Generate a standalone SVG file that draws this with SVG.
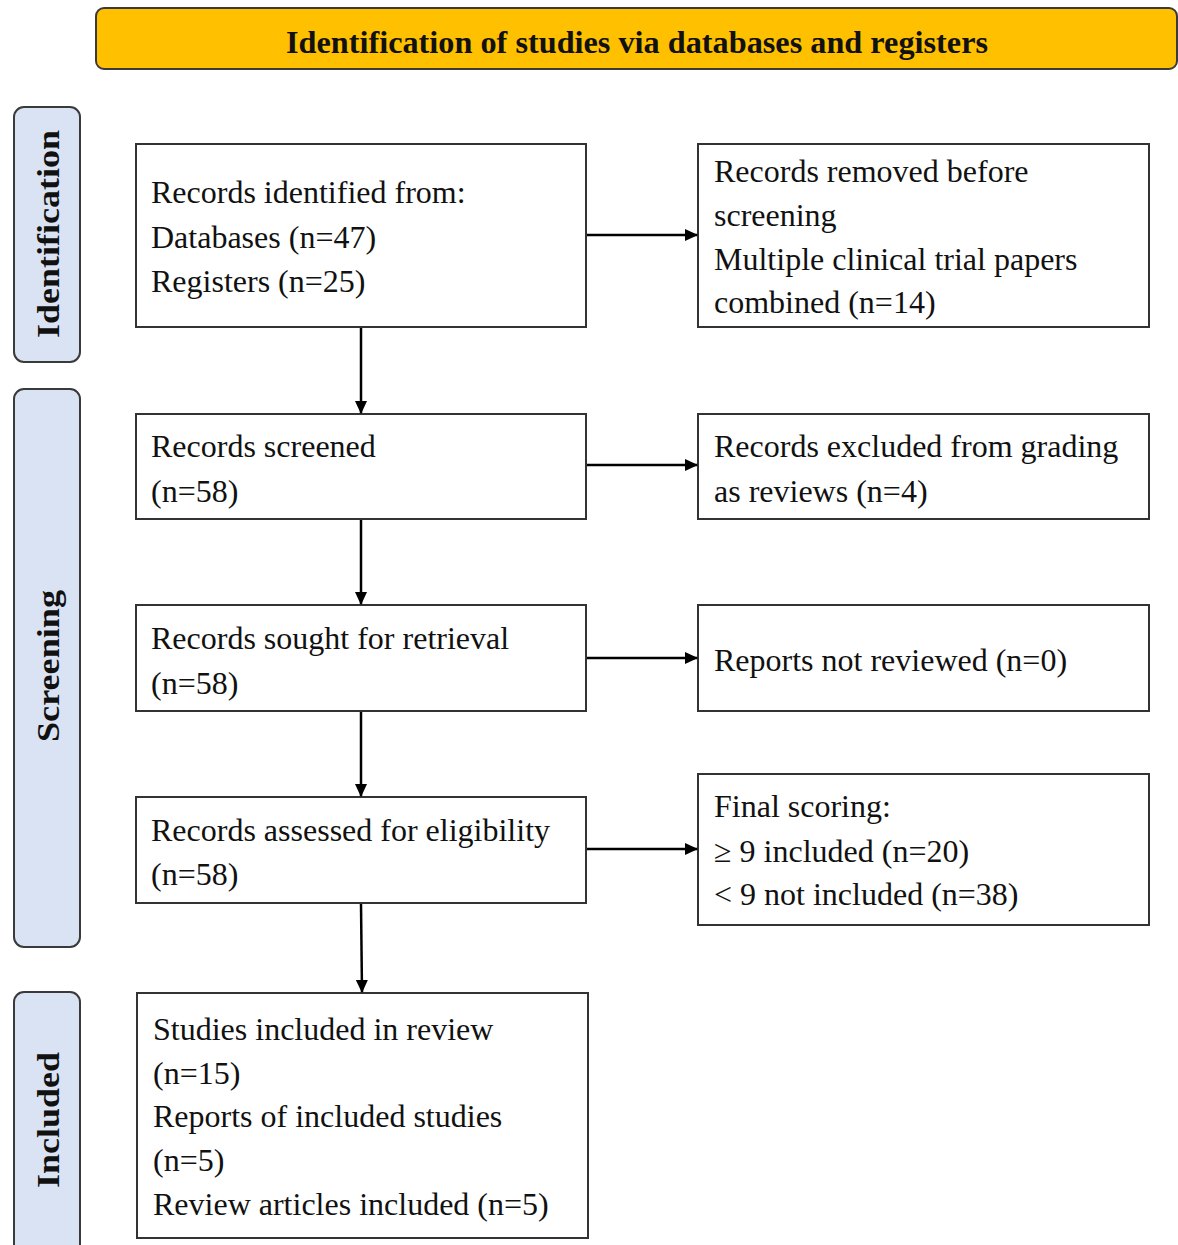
<svg xmlns="http://www.w3.org/2000/svg" width="1178" height="1245" viewBox="0 0 1178 1245">
<style>
.box{fill:#fff;stroke:#333;stroke-width:2}
.side{fill:#DAE3F3;stroke:#3a3a3a;stroke-width:2}
.t{font-family:"Liberation Serif","Times New Roman",serif;font-size:32px;fill:#111}
.sl{font-family:"Liberation Serif","Times New Roman",serif;font-size:32px;font-weight:bold;fill:#111}
.conn{stroke:#000;stroke-width:2.5;fill:none;marker-end:url(#ah)}
</style>
<defs>
<marker id="ah" markerWidth="14" markerHeight="14" refX="12" refY="6" orient="auto" markerUnits="userSpaceOnUse">
<path d="M0,0 L13,6 L0,12 Z" fill="#000"/>
</marker>
</defs>
<rect width="1178" height="1245" fill="#fff"/>
<g id="banner">
<rect x="96" y="8" width="1081" height="61" rx="8" fill="#FFC000" stroke="#3a3a3a" stroke-width="2"/>
<text x="637" y="53" text-anchor="middle" class="sl" font-size="40" textLength="702" lengthAdjust="spacingAndGlyphs">Identification of studies via databases and registers</text>
</g>
<g id="stage-identification">
<rect class="side" x="14" y="107" width="66" height="255" rx="10"/>
<text class="sl" transform="translate(59,234) rotate(-90)" text-anchor="middle" textLength="208" lengthAdjust="spacingAndGlyphs">Identification</text>
</g>
<g id="stage-screening">
<rect class="side" x="14" y="389" width="66" height="558" rx="10"/>
<text class="sl" transform="translate(59,666) rotate(-90)" text-anchor="middle" textLength="152" lengthAdjust="spacingAndGlyphs">Screening</text>
</g>
<g id="stage-included">
<rect class="side" x="14" y="992" width="66" height="270" rx="10"/>
<text class="sl" transform="translate(59,1120) rotate(-90)" text-anchor="middle" textLength="136" lengthAdjust="spacingAndGlyphs">Included</text>
</g>
<g id="n1">
<rect class="box" x="136" y="144" width="450" height="183"/>
<text class="t" x="151" y="203">Records identified from:</text>
<text class="t" x="151" y="248">Databases (n=47)</text>
<text class="t" x="151" y="292">Registers (n=25)</text>
</g>
<g id="n1r">
<rect class="box" x="698" y="144" width="451" height="183"/>
<text class="t" x="714" y="182">Records removed before</text>
<text class="t" x="714" y="226">screening</text>
<text class="t" x="714" y="270">Multiple clinical trial papers</text>
<text class="t" x="714" y="313">combined (n=14)</text>
</g>
<g id="n2">
<rect class="box" x="136" y="414" width="450" height="105"/>
<text class="t" x="151" y="457">Records screened</text>
<text class="t" x="151" y="502">(n=58)</text>
</g>
<g id="n2r">
<rect class="box" x="698" y="414" width="451" height="105"/>
<text class="t" x="714" y="457">Records excluded from grading</text>
<text class="t" x="714" y="502">as reviews (n=4)</text>
</g>
<g id="n3">
<rect class="box" x="136" y="605" width="450" height="106"/>
<text class="t" x="151" y="649">Records sought  for retrieval</text>
<text class="t" x="151" y="694">(n=58)</text>
</g>
<g id="n3r">
<rect class="box" x="698" y="605" width="451" height="106"/>
<text class="t" x="714" y="671">Reports not reviewed (n=0)</text>
</g>
<g id="n4">
<rect class="box" x="136" y="797" width="450" height="106"/>
<text class="t" x="151" y="841">Records assessed for eligibility</text>
<text class="t" x="151" y="885">(n=58)</text>
</g>
<g id="n4r">
<rect class="box" x="698" y="774" width="451" height="151"/>
<text class="t" x="714" y="817">Final scoring:</text>
<text class="t" x="714" y="862">≥ 9 included (n=20)</text>
<text class="t" x="714" y="905">&lt; 9 not included (n=38)</text>
</g>
<g id="n5">
<rect class="box" x="137" y="993" width="451" height="245"/>
<text class="t" x="153" y="1040">Studies included in review</text>
<text class="t" x="153" y="1084">(n=15)</text>
<text class="t" x="153" y="1127">Reports of included studies</text>
<text class="t" x="153" y="1171">(n=5)</text>
<text class="t" x="153" y="1215">Review articles included (n=5)</text>
</g>
<g id="connectors">
<line class="conn" x1="361" y1="328" x2="361" y2="413"/>
<line class="conn" x1="361" y1="520" x2="361" y2="604"/>
<line class="conn" x1="361" y1="712" x2="361" y2="796"/>
<line class="conn" x1="361" y1="904" x2="362" y2="992"/>
<line class="conn" x1="587" y1="235" x2="697" y2="235"/>
<line class="conn" x1="587" y1="465" x2="697" y2="465"/>
<line class="conn" x1="587" y1="658" x2="697" y2="658"/>
<line class="conn" x1="587" y1="849" x2="697" y2="849"/>
</g>
</svg>
